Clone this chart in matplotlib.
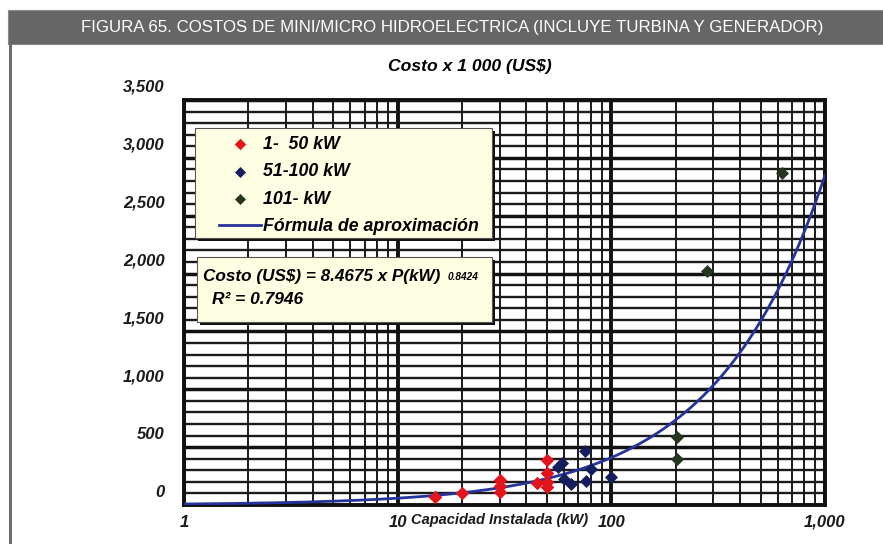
import numpy as np
import matplotlib
matplotlib.use("Agg")
import matplotlib.pyplot as plt
from matplotlib.patches import Rectangle
from matplotlib.lines import Line2D
from matplotlib.ticker import FixedLocator, FixedFormatter, LogLocator, MultipleLocator, NullFormatter
from matplotlib.transforms import ScaledTranslation

# ---- data ----
red_x = [15, 20, 30, 30, 30, 45, 50, 50, 50, 50]
red_y = [69, 104, 216, 164, 112, 190, 389, 277, 199, 156]

blue_x = [56, 59, 60, 65, 75, 76, 80, 100]
blue_y = [328, 363, 225, 181, 467, 207, 311, 238]

green_x = [203, 203, 280, 629]
green_y = [398, 588, 2022, 2869]

fit_coef = 8.4675
fit_exp = 0.8424
r_squared = 0.7946

x_ticks = [1, 10, 100, 1000]
x_tick_labels = ["1", "10", "100", "1,000"]
y_ticks = [0, 500, 1000, 1500, 2000, 2500, 3000, 3500]
y_tick_labels = ["0", "500", "1,000", "1,500", "2,000", "2,500", "3,000", "3,500"]

series_labels = ["1-  50 kW", "51-100 kW", "101- kW", "Fórmula de aproximación"]

# ---- styling ----
W, H = 883, 544
plt.rcParams["font.family"] = ["Liberation Sans", "DejaVu Sans"]

red = "#e3141c"
navy = "#161d5c"
dkgreen = "#26351f"
curve_col = "#25339b"
box_fill = "#fefee3"
bold_it = {"fontweight": "bold", "fontstyle": "italic"}


def fx(px):
    return px / W


def fy(py):
    return 1 - py / H


def shadow_box(target, x0, y0, x1, y1, z):
    """Pale box with a dark drop shadow, given in pixel coordinates."""
    for dx, fc, ec, zz in ((2.5, "#111111", "none", z), (0, box_fill, "#555555", z + 0.1)):
        r = Rectangle((fx(x0 + dx), fy(y1 + dx)), (x1 - x0) / W, (y1 - y0) / H,
                      transform=fig.transFigure, facecolor=fc, edgecolor=ec,
                      lw=0.8, zorder=zz, clip_on=False)
        target.add_artist(r)


fig = plt.figure(figsize=(W / 100, H / 100), dpi=100)
fig.patch.set_facecolor("white")

# header band
fig.patches.append(Rectangle((fx(8), fy(44)), 1 - fx(8), (44 - 10) / H,
                             transform=fig.transFigure, facecolor="#666666",
                             edgecolor="#8a8a8a", lw=0.8, zorder=0))
fig.text(fx(452), fy(27.5), "FIGURA 65. COSTOS DE MINI/MICRO HIDROELECTRICA (INCLUYE TURBINA Y GENERADOR)",
         color="white", ha="center", va="center", fontsize=12.2)
# left frame line
fig.add_artist(Line2D([fx(10), fx(10)], [fy(44), 0], transform=fig.transFigure,
                      color="#6e6e6e", lw=2.2))

ax = fig.add_axes([fx(184), fy(505), fx(825) - fx(184), (505 - 100) / H])
ax.set_xscale("log")
ax.set_xlim(1, 1000)
ax.set_ylim(0, 3500)

# grid
ax.xaxis.set_major_locator(FixedLocator(x_ticks))
ax.xaxis.set_major_formatter(FixedFormatter(x_tick_labels))
ax.xaxis.set_minor_locator(LogLocator(base=10, subs=range(2, 10)))
ax.xaxis.set_minor_formatter(NullFormatter())
ax.yaxis.set_major_locator(FixedLocator(y_ticks))
ax.yaxis.set_major_formatter(FixedFormatter(y_tick_labels))
ax.yaxis.set_minor_locator(MultipleLocator(100))
ax.grid(which="major", axis="x", color="#111111", lw=2.8, zorder=1)
ax.grid(which="minor", axis="x", color="#1a1a1a", lw=1.4, zorder=1)
ax.grid(which="major", axis="y", color="#111111", lw=2.5, zorder=1)
ax.grid(which="minor", axis="y", color="#1a1a1a", lw=1.7, zorder=1)
ax.set_axisbelow(True)
for s in ax.spines.values():
    s.set_linewidth(2.8)
    s.set_color("#111111")
ax.tick_params(which="both", length=0)
ax.tick_params(axis="y", pad=14)
ax.tick_params(axis="x", pad=7)
for lab in ax.get_yticklabels() + ax.get_xticklabels():
    lab.set_fontsize(12)
    lab.set_fontweight("bold")
    lab.set_fontstyle("italic")
    lab.set_color("#1a1a1a")
lift = ScaledTranslation(0, 0.14, fig.dpi_scale_trans)
for lab in ax.get_yticklabels():
    lab.set_transform(lab.get_transform() + lift)

# fitted curve and observations
P = np.logspace(0, 3, 300)
ax.plot(P, fit_coef * P ** fit_exp, color=curve_col, lw=2.0, zorder=3, label=series_labels[3])
ax.scatter(red_x, red_y, marker="D", s=48, color=red, zorder=4, label=series_labels[0], linewidths=0)
ax.scatter(blue_x, blue_y, marker="D", s=44, color=navy, zorder=4, label=series_labels[1], linewidths=0)
ax.scatter(green_x, green_y, marker="D", s=44, color=dkgreen, zorder=4, label=series_labels[2], linewidths=0)

# legend
shadow_box(ax, 195, 128, 492, 238, 5)
h, l = ax.get_legend_handles_labels()
order = [1, 2, 3, 0]
leg = ax.legend([h[i] for i in order], [l[i] for i in order],
                loc="upper left", bbox_to_anchor=(fx(219), fy(136)),
                bbox_transform=fig.transFigure,
                prop={"family": "Liberation Sans", "weight": "bold", "style": "italic", "size": 12.8},
                frameon=False, handlelength=2.35, handletextpad=0.15, labelspacing=0.58,
                borderpad=0.0, borderaxespad=0, markerscale=0.85)
leg.set_zorder(6)

# formula box
shadow_box(fig, 197, 257, 492, 322, 7)
formula = fig.text(fx(203), fy(277), "Costo (US$) = %.4f x P(kW)" % fit_coef, ha="left", va="center",
                   fontsize=12.3, zorder=9, **bold_it)
expo = plt.Annotation("%.4f" % fit_exp, xy=(1, 0.5), xycoords=formula,
                      xytext=(5, 0), textcoords="offset points",
                      ha="left", va="center", fontsize=7.2, zorder=9, **bold_it)
fig.add_artist(expo)
fig.text(fx(212), fy(300), "R² = %.4f" % r_squared, ha="left", va="center",
         fontsize=12.5, zorder=9, **bold_it)

# titles
fig.text(fx(470), fy(67), "Costo x 1 000 (US$)", ha="center", va="center",
         fontsize=12.6, **bold_it)
fig.text(fx(500), fy(520), "Capacidad Instalada (kW)", ha="center", va="center",
         fontsize=10.5, color="#1a1a1a", **bold_it)

fig.savefig("out.png", dpi=100)
